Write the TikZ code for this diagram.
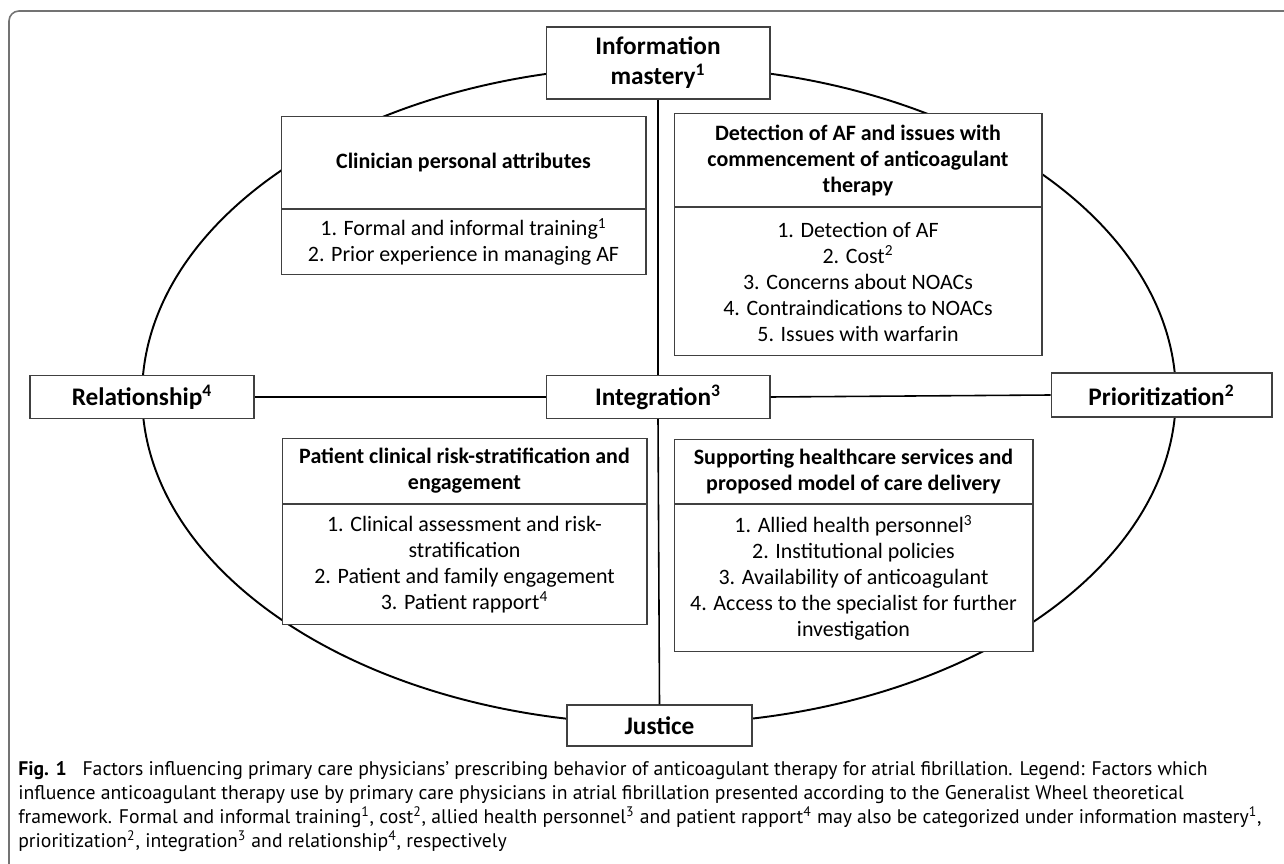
\documentclass[tikz,border=0pt]{standalone}
\usepackage{fontspec}
\setmainfont{Carlito}
\newfontfamily\capfont{PT Sans}
\usetikzlibrary{positioning}

\tikzset{
  wheelbox/.style={draw=black!75, fill=white, line width=0.6pt, inner sep=0pt,
    align=center, font=\fontsize{14.4}{17}\selectfont\bfseries, minimum width=4.48cm},
  headbox/.style={draw=black!75, fill=white, line width=0.6pt, inner sep=0pt,
    align=center, font=\fontsize{12.5}{14.8}\selectfont\bfseries, anchor=north},
  itembox/.style={draw=black!75, fill=white, line width=0.6pt, inner sep=0pt,
    align=center, font=\fontsize{12.5}{14.8}\selectfont},
  spoke/.style={line width=0.9pt}
}

\begin{document}
\begin{tikzpicture}[x=0.02cm, y=-0.02cm]
\useasboundingbox (0,0) rectangle (1284,864);
\clip (0,0) rectangle (1284,864);

% figure frame
\draw[black!55, line width=0.9pt, rounded corners=0.2cm] (9,11) rectangle (1300,880);

% the wheel
\draw[line width=1.1pt] (659,395) ellipse [x radius=10.34cm, y radius=6.58cm];

% the five domains
\node[wheelbox, minimum height=1.44cm] (info) at (658,63) {Information\\mastery\textsuperscript{1}};
\node[wheelbox, minimum height=0.86cm] (integ) at (658,397) {Integration\textsuperscript{3}};
\node[wheelbox, minimum height=0.86cm] (rel) at (142,397) {Relationship\textsuperscript{4}};
\node[wheelbox, minimum width=4.42cm, minimum height=0.88cm] (prio) at (1161.5,395) {Prioritization\textsuperscript{2}};
\node[wheelbox, minimum width=3.7cm, minimum height=0.82cm] (just) at (659.5,725.5) {Justice};

% spokes
\draw[spoke] (info.south) -- (integ.north);
\draw[spoke] (integ.south) -- (just.north);
\draw[spoke] (rel.east) -- (integ.west);
\draw[spoke] (integ.east) -- (prio.west);

% quadrant boxes
\node[headbox, minimum width=7.3cm, minimum height=1.84cm] (clinhead) at (463.5,116) {Clinician personal attributes};
\node[itembox, minimum width=7.3cm, minimum height=1.3cm, below=0pt of clinhead] (clinitems)
  {1. Formal and informal training\textsuperscript{1}\\2. Prior experience in managing AF};

\node[headbox, minimum width=7.36cm, minimum height=1.86cm] (dethead) at (858,113)
  {Detection of AF and issues with\\commencement of anticoagulant\\therapy};
\node[itembox, minimum width=7.36cm, minimum height=2.96cm, below=0pt of dethead] (detitems)
  {1. Detection of AF\\2. Cost\textsuperscript{2}\\3. Concerns about NOACs\\4. Contraindications to NOACs\\5. Issues with warfarin};

\node[headbox, minimum width=7.3cm, minimum height=1.3cm] (pathead) at (464.5,438)
  {Patient clinical risk-stratification and\\engagement};
\node[itembox, minimum width=7.3cm, minimum height=2.4cm, below=0pt of pathead] (patitems)
  {1. Clinical assessment and risk-\\stratification\\2. Patient and family engagement\\3. Patient rapport\textsuperscript{4}};

\node[headbox, minimum width=7.18cm, minimum height=1.28cm] (suphead) at (853.5,439)
  {Supporting healthcare services and\\proposed model of care delivery};
\node[itembox, minimum width=7.18cm, minimum height=2.94cm, below=0pt of suphead] (supitems)
  {1. Allied health personnel\textsuperscript{3}\\2. Institutional policies\\3. Availability of anticoagulant\\4. Access to the specialist for further\\investigation};

% caption
\node[anchor=north west, inner sep=0pt, align=left, font=\capfont\fontsize{11.2}{13.6}\selectfont] (caption) at (18,761)
  {\textbf{Fig. 1}\hspace{0.8em}Factors influencing primary care physicians’ prescribing behavior of anticoagulant therapy for atrial fibrillation. Legend: Factors which\\
   influence anticoagulant therapy use by primary care physicians in atrial fibrillation presented according to the Generalist Wheel theoretical\\
   framework. Formal and informal training\textsuperscript{1}, cost\textsuperscript{2}, allied health personnel\textsuperscript{3} and patient rapport\textsuperscript{4} may also be categorized under information mastery\textsuperscript{1},\\
   prioritization\textsuperscript{2}, integration\textsuperscript{3} and relationship\textsuperscript{4}, respectively};
\end{tikzpicture}
\end{document}
